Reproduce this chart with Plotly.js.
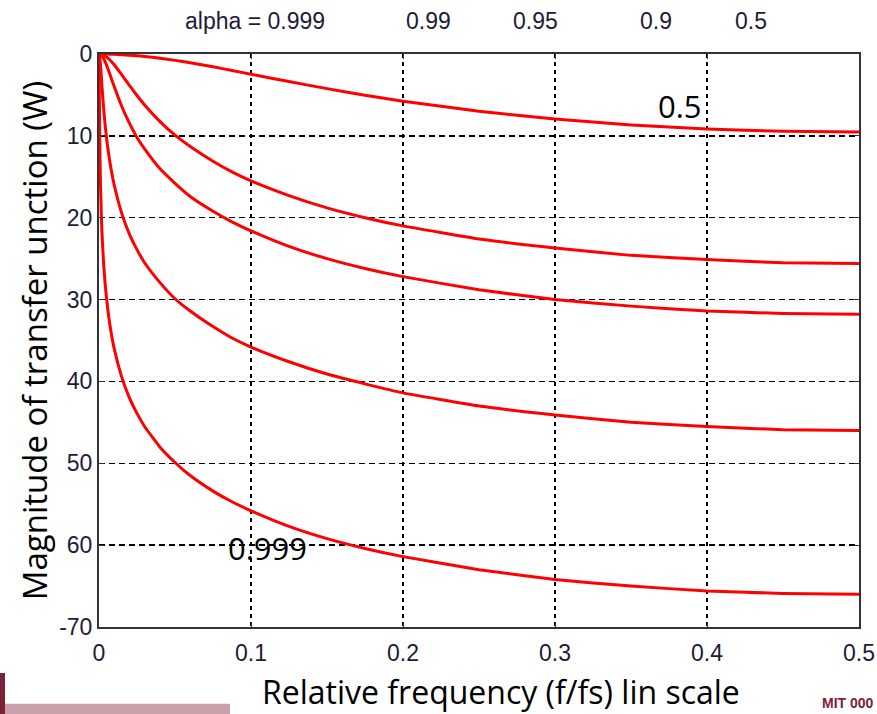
<!DOCTYPE html>
<html>
<head>
<meta charset="utf-8">
<script src="https://cdn.plot.ly/plotly-3.0.1.min.js"></script>
<style>html,body{margin:0;padding:0;background:#fff;}#chart{width:877px;height:714px;}</style>
</head>
<body>
<div id="chart"></div>
<script>
// Relative frequency (f/fs)
const freq = [0, 0.0005, 0.001, 0.0015, 0.002, 0.003, 0.004, 0.005, 0.007, 0.01, 0.015, 0.02, 0.025, 0.03, 0.04, 0.05, 0.06, 0.075, 0.0875, 0.1, 0.125, 0.15, 0.175, 0.2, 0.25, 0.3, 0.35, 0.4, 0.45, 0.5];
// Magnitude (dB) for each alpha
const alpha0999 = [0, -10.4, -16.1, -19.5, -22.0, -25.5, -28.0, -29.9, -32.9, -36.0, -39.5, -42.0, -43.9, -45.5, -48.0, -49.9, -51.5, -53.4, -54.7, -55.8, -57.7, -59.2, -60.4, -61.4, -63.0, -64.2, -65.0, -65.6, -65.9, -66.0];
const alpha099  = [0, -0.4, -1.4, -2.7, -4.1, -6.5, -8.6, -10.3, -13.0, -16.0, -19.5, -22.0, -23.9, -25.5, -27.9, -29.9, -31.4, -33.3, -34.7, -35.8, -37.6, -39.1, -40.3, -41.4, -43.0, -44.1, -45.0, -45.5, -45.9, -46.0];
const alpha095  = [0, -0.02, -0.06, -0.14, -0.25, -0.55, -0.93, -1.38, -2.39, -3.98, -6.41, -8.45, -10.2, -11.6, -14.0, -15.8, -17.4, -19.2, -20.5, -21.6, -23.5, -25.0, -26.2, -27.2, -28.8, -30.0, -30.8, -31.4, -31.7, -31.8];
const alpha09   = [0, 0, -0.02, -0.04, -0.06, -0.14, -0.24, -0.37, -0.70, -1.32, -2.55, -3.84, -5.07, -6.22, -8.23, -9.92, -11.3, -13.1, -14.4, -15.5, -17.3, -18.8, -20.0, -21.0, -22.6, -23.7, -24.6, -25.1, -25.5, -25.6];
const alpha05   = [0, 0, 0, 0, 0, 0, -0.01, -0.01, -0.02, -0.03, -0.08, -0.14, -0.21, -0.30, -0.51, -0.78, -1.08, -1.57, -2.01, -2.47, -3.37, -4.23, -5.03, -5.76, -6.99, -7.95, -8.66, -9.16, -9.45, -9.54];

const seriesNames = ['0.999', '0.99', '0.95', '0.9', '0.5'];
const seriesValues = [alpha0999, alpha099, alpha095, alpha09, alpha05];

const xTickVals = [0, 0.1, 0.2, 0.3, 0.4, 0.5];
const xTickText = ['0', '0.1', '0.2', '0.3', '0.4', '0.5'];
const yTickVals = [0, -10, -20, -30, -40, -50, -60, -70];
const yTickText = ['0', '10', '20', '30', '40', '50', '60', '-70'];
const topLabels = ['alpha = 0.999', '0.99', '0.95', '0.9', '0.5'];
const xTitle = 'Relative frequency (f/fs) lin scale';
const yTitle = 'Magnitude of transfer unction (W)';

const traces = seriesValues.map((vals, i) => ({
  x: freq, y: vals, type: 'scatter', mode: 'lines', name: seriesNames[i],
  line: {color: '#ff0000', width: 3, shape: 'spline', smoothing: 0.4},
  hoverinfo: 'skip'
}));

const tickFont = {family: 'Liberation Sans, Arial, sans-serif', size: 23, color: '#1c1c3a'};

const topX = [0.205, 0.433, 0.574, 0.733, 0.858];
const annotations = topLabels.map((t, i) => ({
  text: t, xref: 'paper', yref: 'paper', x: topX[i], y: 1.058, xanchor: 'center', yanchor: 'middle',
  showarrow: false, font: tickFont
}));
annotations.push({text: xTitle, xref: 'paper', yref: 'paper', x: 0.529, y: -0.1125, showarrow: false,
  xanchor: 'center', yanchor: 'middle', font: {family: 'Open Sans, Noto Sans, sans-serif', size: 32, color: '#000'}});
annotations.push({text: '0.5', xref: 'x', yref: 'y', x: 0.3825, y: -6.3, showarrow: false,
  xanchor: 'center', yanchor: 'middle', font: {family: 'Open Sans, Noto Sans, sans-serif', size: 31, color: '#000'}});
annotations.push({text: '0.999', xref: 'x', yref: 'y', x: 0.111, y: -60.4, showarrow: false,
  xanchor: 'center', yanchor: 'middle', font: {family: 'Open Sans, Noto Sans, sans-serif', size: 31, color: '#000'}});
annotations.push({text: '<b>MIT 000</b>', xref: 'paper', yref: 'paper', x: 1.022, y: -0.1505, showarrow: false,
  xanchor: 'right', yanchor: 'bottom', font: {family: 'Liberation Sans, Arial, sans-serif', size: 14, color: '#7a2236'}});

const layout = {
  width: 877, height: 714,
  margin: {l: 99, r: 18, t: 54, b: 87},
  paper_bgcolor: '#ffffff', plot_bgcolor: '#ffffff',
  showlegend: false,
  xaxis: {
    range: [0, 0.5], tickvals: xTickVals, ticktext: xTickText,
    showgrid: true, gridcolor: '#000', gridwidth: 1.3, griddash: '4px,4px',
    showline: true, linecolor: '#333', linewidth: 2, mirror: 'ticks',
    ticks: 'inside', ticklen: 5, tickcolor: '#333', zeroline: false,
    tickfont: tickFont, ticklabelstandoff: 4
  },
  yaxis: {
    range: [-70, 0], tickvals: yTickVals, ticktext: yTickText,
    showgrid: true, gridcolor: '#000', gridwidth: 1.3, griddash: '6px,4px',
    showline: true, linecolor: '#333', linewidth: 2, mirror: 'ticks',
    ticks: 'inside', ticklen: 5, tickcolor: '#333', zeroline: false,
    tickfont: tickFont,
    title: {text: yTitle, font: {family: 'Open Sans, Noto Sans, sans-serif', size: 33, color: '#000'}, standoff: 2}
  },
  annotations: annotations,
  shapes: [
    {type: 'rect', xref: 'paper', yref: 'paper', x0: -0.1303, x1: -0.1237, y0: -0.0803, y1: -0.152,
      fillcolor: '#7a2236', line: {width: 0}},
    {type: 'rect', xref: 'paper', yref: 'paper', x0: -0.1237, x1: 0.1724, y0: -0.134, y1: -0.152,
      fillcolor: '#c9a0aa', line: {width: 0}}
  ]
};

Plotly.newPlot('chart', traces, layout, {displayModeBar: false, staticPlot: true});
</script>
</body>
</html>
